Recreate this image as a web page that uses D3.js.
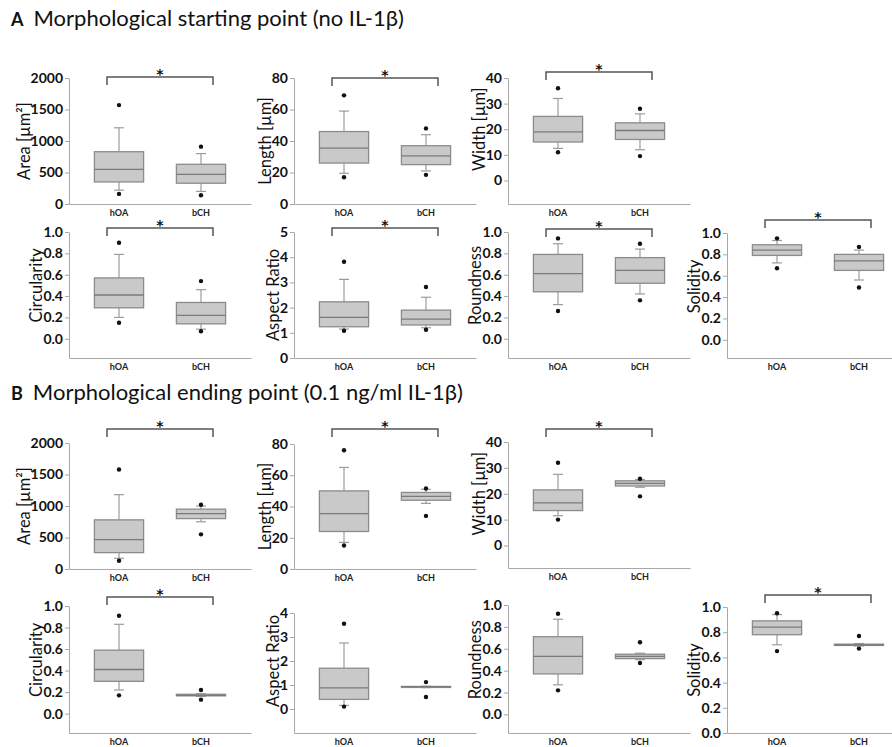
<!DOCTYPE html>
<html>
<head>
<meta charset="utf-8">
<script src="https://cdn.jsdelivr.net/npm/d3@7"></script>
<style>
  body { margin: 0; background: #fff; }
  text { font-family: Lato, "Open Sans", sans-serif; }
</style>
</head>
<body>
<svg id="chart" width="892" height="747"></svg>
<script>
// categories
const groups = ['hOA', 'bCH'];
const metrics = ['Area [µm²]', 'Length [µm]', 'Width [µm]', 'Circularity', 'Aspect Ratio', 'Roundness', 'Solidity'];

// box stats per metric: [low whisker, Q1, median, Q3, high whisker]
const startHOA = [[220, 350, 550, 830, 1210], [19.5, 26, 35.5, 46, 59], [12.5, 15, 19, 25, 32],
  [0.20, 0.29, 0.41, 0.57, 0.79], [1.15, 1.24, 1.61, 2.23, 3.12], [0.32, 0.44, 0.61, 0.79, 0.89], [0.72, 0.79, 0.84, 0.89, 0.93]];
const startBCH = [[200, 330, 470, 630, 800], [21, 25, 30.5, 37, 44], [12, 16, 19.5, 22.5, 26],
  [0.09, 0.14, 0.22, 0.34, 0.46], [1.2, 1.31, 1.54, 1.9, 2.41], [0.42, 0.52, 0.64, 0.76, 0.84], [0.56, 0.65, 0.74, 0.80, 0.84]];
const endHOA = [[170, 260, 465, 780, 1180], [17, 24, 35.5, 50, 65], [11.5, 13.5, 16.5, 21.5, 27.5],
  [0.22, 0.30, 0.41, 0.59, 0.83], [0.15, 0.40, 0.88, 1.70, 2.75], [0.27, 0.37, 0.53, 0.71, 0.87], [0.70, 0.78, 0.84, 0.89, 0.94]];
const endBCH = [[750, 800, 880, 950, 1000], [42, 44, 46.5, 49, 51], [22.5, 23, 24, 25, 25.5],
  [0.16, 0.165, 0.17, 0.18, 0.185], [0.89, 0.91, 0.93, 0.94, 0.95], [0.50, 0.51, 0.53, 0.55, 0.56], [0.69, 0.695, 0.70, 0.705, 0.71]];

// outliers per metric: [low, high]
const startOutHOA = [[160, 1570], [17, 69], [11, 36], [0.15, 0.90], [1.08, 3.82], [0.26, 0.94], [0.67, 0.95]];
const startOutBCH = [[140, 910], [18.5, 48], [9.5, 28], [0.07, 0.54], [1.12, 2.82], [0.36, 0.89], [0.49, 0.87]];
const endOutHOA = [[130, 1580], [15, 76], [10, 32], [0.17, 0.91], [0.10, 3.55], [0.22, 0.92], [0.65, 0.95]];
const endOutBCH = [[550, 1020], [34, 51.5], [19, 25.8], [0.13, 0.22], [0.50, 1.12], [0.47, 0.66], [0.67, 0.77]];

// significance brackets
const startSig = [true, true, true, true, true, true, true];
const endSig = [true, true, true, true, false, false, true];

// tick values
const fracTicks = [0, 0.2, 0.4, 0.6, 0.8, 1.0];
const ticksStart = [[0, 500, 1000, 1500, 2000], [0, 20, 40, 60, 80], [0, 10, 20, 30, 40], fracTicks, [0, 1, 2, 3, 4, 5], fracTicks, fracTicks];
const ticksEnd = [[0, 500, 1000, 1500, 2000], [0, 20, 40, 60, 80], [0, 10, 20, 30, 40], fracTicks, [0, 1, 2, 3, 4], fracTicks, fracTicks];
const yMinStart = [0, 0, -9.2, -0.18, 0, -0.18, -0.17];
const yMinEnd = [0, 0, -8.7, -0.18, -1, -0.17, 0];

const titles = ['Morphological starting point (no IL-1β)', 'Morphological ending point (0.1 ng/ml IL-1β)'];
const titleLetters = ['A', 'B'];

// layout
const colX = [69, 294, 508, 727];
const panelCol = [0, 1, 2, 0, 1, 2, 3];
const topStart = [78, 78, 78, 232, 232, 232, 233];
const bottomStart = [204, 204, 204, 358, 358, 358, 358];
const topEnd = [443, 444, 442, 606, 613, 605, 607];
const bottomEnd = [569, 569, 568, 733, 733, 733, 733];
const bracketYStart = [77, 78, 72, 228, 228, 229, 220];
const bracketYEnd = [429, 429, 429, 597, 0, 0, 595];
const titleY = [26, 400];

const svg = d3.select('#chart');

const sections = [
  { hoa: startHOA, bch: startBCH, outH: startOutHOA, outB: startOutBCH, sig: startSig,
    ticks: ticksStart, yMin: yMinStart, top: topStart, bottom: bottomStart, br: bracketYStart },
  { hoa: endHOA, bch: endBCH, outH: endOutHOA, outB: endOutBCH, sig: endSig,
    ticks: ticksEnd, yMin: yMinEnd, top: topEnd, bottom: bottomEnd, br: bracketYEnd }
];

sections.forEach((sec, s) => {
  const t = svg.append('text').attr('x', 11).attr('y', titleY[s]).style('font-size', '22px').attr('fill', '#111');
  t.append('tspan').text(titleLetters[s]).style('font-weight', 'bold').style('font-size', '18px');
  t.append('tspan').attr('dx', 10).text(titles[s]);

  metrics.forEach((m, i) => {
    const x0 = colX[panelCol[i]];
    const ticks = sec.ticks[i];
    const y = d3.scaleLinear()
      .domain([sec.yMin[i], ticks[ticks.length - 1]])
      .range([sec.bottom[i], sec.top[i]]);
    const x = d3.scaleBand().domain(groups)
      .range([x0, x0 + 182]).paddingInner(0.4).paddingOuter(0.31);
    const g = svg.append('g');

    // x axis line (no ticks)
    const xa = g.append('g').attr('transform', `translate(0,${sec.bottom[i]})`)
      .call(d3.axisBottom(x).tickSize(0).tickSizeOuter(0).tickPadding(6));
    xa.select('.domain').attr('stroke', '#a8a8a8');
    xa.selectAll('text').style('font-size', '9px').style('font-weight', 'bold').attr('fill', '#222');

    // y axis
    const fmt = ticks[ticks.length - 1] <= 1 ? d3.format('.1f') : d3.format('d');
    const ya = g.append('g').attr('transform', `translate(${x0},0)`)
      .call(d3.axisLeft(y).tickValues(ticks).tickFormat(fmt).tickSize(4).tickSizeOuter(0).tickPadding(2));
    ya.selectAll('.domain, line').attr('stroke', '#a8a8a8');
    ya.selectAll('text').style('font-size', '14px').style('font-weight', 'bold').attr('fill', '#111');

    let maxW = 0;
    ya.selectAll('text').each(function () { maxW = Math.max(maxW, this.getComputedTextLength()); });
    const lx = x0 - 6 - maxW - 7;
    const ly = (y(0) + y(ticks[ticks.length - 1])) / 2;
    g.append('text')
      .attr('transform', `translate(${lx},${ly}) rotate(-90)`)
      .attr('text-anchor', 'middle').attr('dominant-baseline', 'central')
      .style('font-size', '16.5px').attr('fill', '#111')
      .text(m);

    const stats = [sec.hoa[i], sec.bch[i]];
    const outs = [sec.outH[i], sec.outB[i]];
    groups.forEach((grp, k) => {
      const [lo, q1, med, q3, hi] = stats[k];
      const cx = x(grp) + x.bandwidth() / 2;
      const bw = x.bandwidth();
      const wk = g.append('g').attr('stroke', '#9c9c9c').attr('stroke-width', 1.2);
      wk.append('line').attr('x1', cx).attr('x2', cx).attr('y1', y(q3)).attr('y2', y(hi));
      wk.append('line').attr('x1', cx).attr('x2', cx).attr('y1', y(q1)).attr('y2', y(lo));
      wk.append('line').attr('x1', cx - 5).attr('x2', cx + 5).attr('y1', y(hi)).attr('y2', y(hi));
      wk.append('line').attr('x1', cx - 5).attr('x2', cx + 5).attr('y1', y(lo)).attr('y2', y(lo));
      g.append('rect')
        .attr('x', x(grp)).attr('width', bw)
        .attr('y', y(q3)).attr('height', Math.max(1, y(q1) - y(q3)))
        .attr('fill', '#c9c9c9').attr('stroke', '#8c8c8c').attr('stroke-width', 1.3);
      g.append('line')
        .attr('x1', x(grp)).attr('x2', x(grp) + bw)
        .attr('y1', y(med)).attr('y2', y(med))
        .attr('stroke', '#7a7a7a').attr('stroke-width', 1.3);
      g.selectAll(null).data(outs[k]).enter().append('circle')
        .attr('cx', cx).attr('cy', d => y(d)).attr('r', 2.2).attr('fill', '#111');
    });

    if (sec.sig[i]) {
      const by = sec.br[i];
      const bx1 = x(groups[0]) + x.bandwidth() / 2 - 12;
      const bx2 = x(groups[1]) + x.bandwidth() / 2 + 12;
      g.append('path')
        .attr('d', `M${bx1},${by + 8}V${by}H${bx2}V${by + 8}`)
        .attr('fill', 'none').attr('stroke', '#555').attr('stroke-width', 1.5);
      // slight rotation keeps the small glyph in greyscale antialiasing
      g.append('text')
        .attr('transform', `translate(${(bx1 + bx2) / 2},${by + 2}) rotate(0.01)`)
        .attr('text-anchor', 'middle')
        .style('font-family', '"DejaVu Sans", sans-serif')
        .style('font-size', '14px').style('font-weight', 'bold')
        .attr('fill', '#111').text('*');
    }
  });
});
</script>
</body>
</html>
